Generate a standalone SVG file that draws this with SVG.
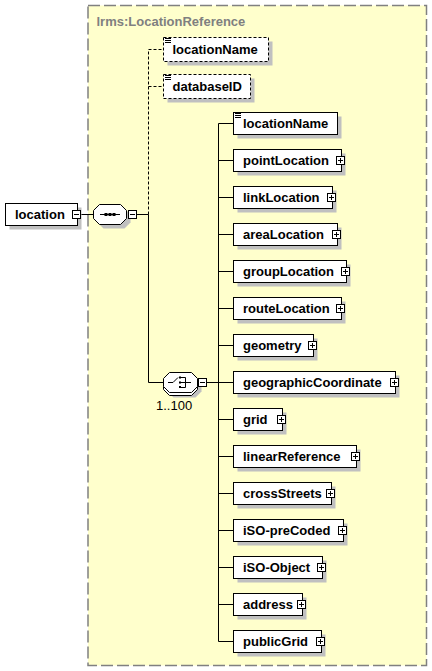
<svg xmlns="http://www.w3.org/2000/svg" xmlns:xlink="http://www.w3.org/1999/xlink" width="432" height="671" viewBox="0 0 432 671">
<style>
.box{fill:#fff;stroke:#000;stroke-width:1}
.attr{fill:#fff;stroke:#000;stroke-width:1;stroke-dasharray:3,2}
.sh{fill:#c0c0c0;stroke:none}
.t{font-family:"Liberation Sans",Arial,sans-serif;font-weight:bold;font-size:13px;fill:#000}
.n{font-family:"Liberation Sans",Arial,sans-serif;font-size:13px;fill:#000}
.ln{stroke:#000;stroke-width:1;fill:none}
.dl{stroke:#000;stroke-width:1;fill:none;stroke-dasharray:3,2}
.ic{stroke:#000;stroke-width:1;fill:none}
</style>
<defs>
<g id="plus"><rect x="-4" y="-4" width="8" height="8" class="box"/><path d="M-2.5,0H2.5M0,-2.5V2.5" class="ln"/></g>
<g id="minus"><rect x="-4" y="-4" width="8" height="8" class="box"/><path d="M-2.5,0H2.5" class="ln"/></g>
<g id="doc"><rect x="0" y="0" width="7" height="6" fill="#fff"/><path d="M0,0.5H6M0,2.5H6M0,4.5H6" class="ic"/></g>
</defs>

<g id="group-lrms-LocationReference">
<rect x="88" y="5.5" width="338.5" height="660" fill="#ffffcc" stroke="#808080" stroke-width="1.5" stroke-dasharray="12,4"/>
<text x="96.5" y="26" class="t" fill="#808080" style="fill:#808080">lrms:LocationReference</text>
</g>

<g id="connectors">
<path d="M80.5,214.5H93.5" class="ln"/>
<path d="M136.5,214.5H148.5" class="ln"/>
<path d="M148.5,214.5V49.5H163.5M148.5,86.5H163.5" class="dl"/>
<path d="M148.5,214.5V382.5H163.5" class="ln"/>
<path d="M206.5,382.5H218.5" class="ln"/>
<path d="M218.5,123.5V641.5" class="ln"/>
<path d="M218.5,123.5H233.5M218.5,160.5H233.5M218.5,197.5H233.5M218.5,234.5H233.5M218.5,271.5H233.5M218.5,308.5H233.5M218.5,345.5H233.5M218.5,382.5H233.5M218.5,419.5H233.5M218.5,456.5H233.5M218.5,493.5H233.5M218.5,530.5H233.5M218.5,567.5H233.5M218.5,604.5H233.5M218.5,641.5H233.5" class="ln"/>
</g>

<g id="location">
<rect x="9.5" y="207.5" width="72" height="22" class="sh"/>
<rect x="5.5" y="203.5" width="72" height="22" class="box"/>
<text x="15" y="219" class="t">location</text>
<use xlink:href="#minus" x="76.5" y="214.5"/>
</g>

<g id="sequence">
<path d="M103.5,208.5H124.5L130.5,214.5V222.5L124.5,228.5H103.5L97.5,222.5V214.5Z" class="sh"/>
<path d="M99.5,204.5H120.5L126.5,210.5V218.5L120.5,224.5H99.5L93.5,218.5V210.5Z" class="box"/>
<path d="M100,214.5H120" class="ln"/>
<rect x="104.5" y="213" width="3" height="3" fill="#000"/>
<rect x="108.5" y="213" width="3" height="3" fill="#000"/>
<rect x="112.5" y="213" width="3" height="3" fill="#000"/>
<use xlink:href="#minus" x="132.5" y="214.5"/>
</g>

<g id="attr-locationName">
<rect x="167.5" y="41.5" width="105" height="24" class="sh"/>
<rect x="163.5" y="37.5" width="105" height="24" class="attr"/>
<use xlink:href="#doc" x="165" y="38"/>
<text x="172.5" y="54" class="t">locationName</text>
</g>

<g id="attr-databaseID">
<rect x="167.5" y="78.5" width="87" height="24" class="sh"/>
<rect x="163.5" y="74.5" width="87" height="24" class="attr"/>
<use xlink:href="#doc" x="165" y="75"/>
<text x="172.5" y="91" class="t">databaseID</text>
</g>

<g id="choice">
<path d="M173.5,377.5H195.5L201.5,383.5V391.5L195.5,397.5H173.5L167.5,391.5V383.5Z" class="sh"/>
<path d="M166.5,375.5H188.5L194.5,381.5V389.5L188.5,395.5H166.5L160.5,389.5V381.5Z" transform="translate(3,0)" class="box"/>
<path d="M169.5,372.5H191.5L197.5,378.5V386.5L191.5,392.5H169.5L163.5,386.5V378.5Z" class="box"/>
<path d="M168,382.5H173L178,377.5" class="ln"/>
<rect x="179" y="376.5" width="2" height="2" fill="#000"/>
<rect x="179" y="381.5" width="2" height="2" fill="#000"/>
<rect x="179" y="386" width="2" height="2" fill="#000"/>
<path d="M181,377.5H185.5V387.5H181M181,382.5H191" class="ln"/>
<use xlink:href="#minus" x="202.5" y="382.5"/>
<text x="156" y="410" class="n">1..100</text>
</g>

<g id="el-locationName">
<rect x="237.5" y="116.5" width="104" height="22" class="sh"/>
<rect x="233.5" y="112.5" width="104" height="22" class="box"/>
<use xlink:href="#doc" x="235" y="113"/>
<text x="243" y="128" class="t">locationName</text>
</g>
<g id="el-pointLocation">
<rect x="237.5" y="153.5" width="108" height="22" class="sh"/>
<rect x="233.5" y="149.5" width="108" height="22" class="box"/>
<text x="243" y="165" class="t">pointLocation</text>
<use xlink:href="#plus" x="340.5" y="160.5"/>
</g>
<g id="el-linkLocation">
<rect x="237.5" y="190.5" width="99" height="22" class="sh"/>
<rect x="233.5" y="186.5" width="99" height="22" class="box"/>
<text x="243" y="202" class="t">linkLocation</text>
<use xlink:href="#plus" x="331.5" y="197.5"/>
</g>
<g id="el-areaLocation">
<rect x="237.5" y="227.5" width="104" height="22" class="sh"/>
<rect x="233.5" y="223.5" width="104" height="22" class="box"/>
<text x="243" y="239" class="t">areaLocation</text>
<use xlink:href="#plus" x="336.5" y="234.5"/>
</g>
<g id="el-groupLocation">
<rect x="237.5" y="264.5" width="113" height="22" class="sh"/>
<rect x="233.5" y="260.5" width="113" height="22" class="box"/>
<text x="243" y="276" class="t">groupLocation</text>
<use xlink:href="#plus" x="345.5" y="271.5"/>
</g>
<g id="el-routeLocation">
<rect x="237.5" y="301.5" width="108" height="22" class="sh"/>
<rect x="233.5" y="297.5" width="108" height="22" class="box"/>
<text x="243" y="313" class="t">routeLocation</text>
<use xlink:href="#plus" x="340.5" y="308.5"/>
</g>
<g id="el-geometry">
<rect x="237.5" y="338.5" width="80" height="22" class="sh"/>
<rect x="233.5" y="334.5" width="80" height="22" class="box"/>
<text x="243" y="350" class="t">geometry</text>
<use xlink:href="#plus" x="312.5" y="345.5"/>
</g>
<g id="el-geographicCoordinate">
<rect x="237.5" y="375.5" width="162" height="22" class="sh"/>
<rect x="233.5" y="371.5" width="162" height="22" class="box"/>
<text x="243" y="387" class="t">geographicCoordinate</text>
<use xlink:href="#plus" x="394.5" y="382.5"/>
</g>
<g id="el-grid">
<rect x="237.5" y="412.5" width="49" height="22" class="sh"/>
<rect x="233.5" y="408.5" width="49" height="22" class="box"/>
<text x="243" y="424" class="t">grid</text>
<use xlink:href="#plus" x="281.5" y="419.5"/>
</g>
<g id="el-linearReference">
<rect x="237.5" y="449.5" width="123" height="22" class="sh"/>
<rect x="233.5" y="445.5" width="123" height="22" class="box"/>
<text x="243" y="461" class="t">linearReference</text>
<use xlink:href="#plus" x="355.5" y="456.5"/>
</g>
<g id="el-crossStreets">
<rect x="237.5" y="486.5" width="98" height="22" class="sh"/>
<rect x="233.5" y="482.5" width="98" height="22" class="box"/>
<text x="243" y="498" class="t">crossStreets</text>
<use xlink:href="#plus" x="330.5" y="493.5"/>
</g>
<g id="el-iSO-preCoded">
<rect x="237.5" y="523.5" width="110" height="22" class="sh"/>
<rect x="233.5" y="519.5" width="110" height="22" class="box"/>
<text x="243" y="535" class="t">iSO-preCoded</text>
<use xlink:href="#plus" x="342.5" y="530.5"/>
</g>
<g id="el-iSO-Object">
<rect x="237.5" y="560.5" width="89" height="22" class="sh"/>
<rect x="233.5" y="556.5" width="89" height="22" class="box"/>
<text x="243" y="572" class="t">iSO-Object</text>
<use xlink:href="#plus" x="321.5" y="567.5"/>
</g>
<g id="el-address">
<rect x="237.5" y="597.5" width="69" height="22" class="sh"/>
<rect x="233.5" y="593.5" width="69" height="22" class="box"/>
<text x="243" y="609" class="t">address</text>
<use xlink:href="#plus" x="301.5" y="604.5"/>
</g>
<g id="el-publicGrid">
<rect x="237.5" y="634.5" width="88" height="22" class="sh"/>
<rect x="233.5" y="630.5" width="88" height="22" class="box"/>
<text x="243" y="646" class="t">publicGrid</text>
<use xlink:href="#plus" x="320.5" y="641.5"/>
</g>
</svg>
